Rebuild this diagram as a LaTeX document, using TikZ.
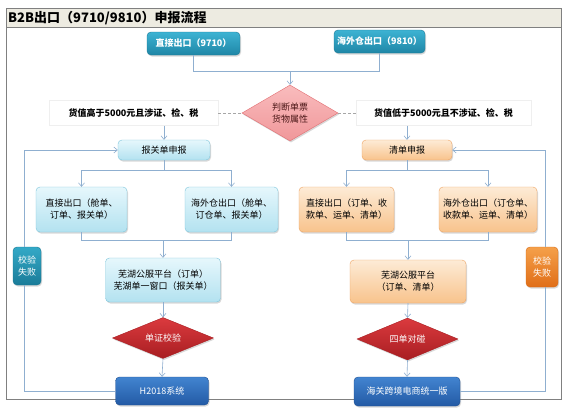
\documentclass[tikz,border=0pt]{standalone}
\usepackage{fontspec}
\setmainfont{Noto Sans CJK SC}
\usetikzlibrary{arrows.meta,positioning,shapes.geometric,shadows}
\definecolor{lnc}{HTML}{8FAFD0}
\definecolor{frmc}{HTML}{808080}
\definecolor{barc}{HTML}{EDEBE1}
\definecolor{topT}{HTML}{3DB3D3}
\definecolor{topB}{HTML}{1F86A6}
\definecolor{topD}{HTML}{1D7A97}
\definecolor{cyT}{HTML}{E6F7FC}
\definecolor{cyB}{HTML}{B3E2F0}
\definecolor{cyD}{HTML}{7EC6DC}
\definecolor{orT}{HTML}{FDEBD6}
\definecolor{orB}{HTML}{F8C38C}
\definecolor{orD}{HTML}{EFA462}
\definecolor{syT}{HTML}{4284D0}
\definecolor{syB}{HTML}{235AA5}
\definecolor{syD}{HTML}{1F4F90}
\definecolor{tfT}{HTML}{34A9C7}
\definecolor{tfB}{HTML}{1A7C99}
\definecolor{tfD}{HTML}{1A7893}
\definecolor{ofT}{HTML}{F5A04A}
\definecolor{ofB}{HTML}{E06E18}
\definecolor{ofD}{HTML}{D66A17}
\definecolor{jgT}{HTML}{F9BCBD}
\definecolor{jgB}{HTML}{F0979A}
\definecolor{jgD}{HTML}{E26E72}
\definecolor{jgX}{HTML}{4A1616}
\definecolor{ckT}{HTML}{DB3A3E}
\definecolor{ckB}{HTML}{A81E22}
\definecolor{ckD}{HTML}{A81C20}
\definecolor{lbD}{HTML}{EFEFEF}
\tikzset{
  blk/.style={draw,rounded corners=4pt,align=center,inner sep=2pt,font=\fontsize{9}{12}\selectfont,
    drop shadow={shadow xshift=1pt,shadow yshift=-1.5pt,opacity=0.3}},
  topblk/.style={blk,top color=topT,bottom color=topB,draw=topD,text=white,font=\fontsize{9}{12}\selectfont\bfseries},
  cyanblk/.style={blk,top color=cyT,bottom color=cyB,draw=cyD},
  orgblk/.style={blk,top color=orT,bottom color=orB,draw=orD},
  sysblk/.style={blk,top color=syT,bottom color=syB,draw=syD,text=white},
  tfailblk/.style={blk,top color=tfT,bottom color=tfB,draw=tfD,text=white},
  ofailblk/.style={blk,top color=ofT,bottom color=ofB,draw=ofD,text=white},
  judgeblk/.style={diamond,aspect=1.7,inner sep=1pt,draw=jgD,top color=jgT,bottom color=jgB,
    text=jgX,align=center,font=\fontsize{9}{12}\selectfont,
    drop shadow={shadow xshift=1pt,shadow yshift=-1.5pt,opacity=0.3}},
  chkblk/.style={diamond,aspect=2.4,inner sep=1pt,draw=ckD,top color=ckT,bottom color=ckB,
    text=white,font=\fontsize{9}{12}\selectfont,
    drop shadow={shadow xshift=1pt,shadow yshift=-1.5pt,opacity=0.3}},
  lblbox/.style={draw=lbD,fill=white,inner sep=2pt,font=\fontsize{9}{12}\selectfont\bfseries},
  ln/.style={draw=lnc,line width=0.6pt},
  arr/.style={ln,-{Straight Barb[length=3.5pt,width=6pt]}},
  dln/.style={draw=gray!70,densely dashed,line width=0.5pt}
}
\begin{document}
\begin{tikzpicture}[x=1pt,y=-1pt]
  \useasboundingbox (0,0) rectangle (573,416);
  \draw[frmc,line width=0.6pt,fill=white] (6,8) rectangle (561,399);
  \draw[frmc,line width=0.6pt,fill=barc] (6,8) rectangle (561,27);
  \node[anchor=west,font=\fontsize{13}{14}\selectfont\bfseries,inner sep=0pt] (title) at (8,18) {B2B出口（9710/9810）申报流程};

  \node[topblk,minimum width=93,minimum height=23] (d9710) at (193.5,43.5) {直接出口（9710）};
  \node[topblk,minimum width=91,minimum height=23] (h9810) at (379.5,41.5) {海外仓出口（9810）};
  \node[judgeblk,minimum width=96,minimum height=56] (judge) at (290,113) {判断单票\\货物属性};
  \node[lblbox,minimum width=169,minimum height=25] (hi) at (133.5,113) {货值高于5000元且涉证、检、税};
  \node[lblbox,minimum width=175,minimum height=25] (lo) at (443.5,113) {货值低于5000元且不涉证、检、税};

  \node[cyanblk,minimum width=92,minimum height=20] (bgd) at (164,150) {报关单申报};
  \node[cyanblk,minimum width=91,minimum height=45] (bzj) at (81.5,209.5) {直接出口（舱单、\\订单、报关单）};
  \node[cyanblk,minimum width=93,minimum height=45] (bhw) at (231.5,209.5) {海外仓出口（舱单、\\订仓单、报关单）};
  \node[cyanblk,minimum width=115,minimum height=44] (bwh) at (163,280) {芜湖公服平台（订单）\\芜湖单一窗口（报关单）};
  \node[chkblk,minimum width=101,minimum height=41] (bjy) at (163,338) {单证校验};
  \node[sysblk,minimum width=93,minimum height=28] (h2018) at (162,391) {H2018系统};
  \node[tfailblk,minimum width=28,minimum height=38] (lfail) at (27,266) {校验\\失败};

  \node[orgblk,minimum width=90,minimum height=20] (qd) at (407,150) {清单申报};
  \node[orgblk,minimum width=95,minimum height=45,align=left] (rzj) at (346.5,209.5) {直接出口（订单、收\\款单、运单、清单）};
  \node[orgblk,minimum width=98,minimum height=45,align=left] (rhw) at (488,209.5) {海外仓出口（订仓单、\\收款单、运单、清单）};
  \node[orgblk,minimum width=116,minimum height=43] (rwh) at (408,281.5) {芜湖公服平台\\（订单、清单）};
  \node[chkblk,minimum width=101,minimum height=42] (rdc) at (407.5,339) {四单对碰};
  \node[sysblk,minimum width=106,minimum height=29] (hg) at (407,391.5) {海关跨境电商统一版};
  \node[ofailblk,minimum width=32,minimum height=40] (rfail) at (542,267) {校验\\失败};

  \coordinate (join) at (290,71);
  \draw[ln] (d9710.south) |- (join);
  \draw[ln] (h9810.south) |- (join);
  \draw[arr] (join) -- (judge.north);
  \draw[dln] (hi.east) -- (judge.west);
  \draw[dln] (lo.west) -- (judge.east);
  \draw[arr] (hi.south -| bgd.north) -- (bgd.north);
  \draw[arr] (lo.south -| qd.north) -- (qd.north);

  \coordinate (bsplit) at (164,170);
  \draw[ln] (bgd.south) -- (bsplit);
  \draw[arr] (bsplit) -| (bzj.north);
  \draw[arr] (bsplit) -| (bhw.north);
  \coordinate (bmerge) at (163,240);
  \draw[ln] (bzj.south) |- (bhw.south |- bmerge) -- (bhw.south);
  \draw[arr] (bmerge) -- (bwh.north);
  \draw[arr] (bwh.south) -- (bjy.north);
  \draw[arr] (bjy.south) -- (h2018.north);
  \coordinate (lturn) at (24,391);
  \draw[ln] (h2018.west) -- (lturn) -- (lturn |- lfail.south);
  \draw[arr] (lturn |- lfail.north) |- (bgd.west);

  \coordinate (rsplit) at (407,170);
  \draw[ln] (qd.south) -- (rsplit);
  \draw[arr] (rsplit) -| (rzj.north);
  \draw[arr] (rsplit) -| (rhw.north);
  \coordinate (rmerge) at (408,240);
  \draw[ln] (rzj.south) |- (rhw.south |- rmerge) -- (rhw.south);
  \draw[arr] (rmerge) -- (rwh.north);
  \draw[arr] (rwh.south) -- (rdc.north);
  \draw[arr] (rdc.south) -- (hg.north);
  \coordinate (rturn) at (545,391.5);
  \draw[ln] (hg.east) -- (rturn) -- (rturn |- rfail.south);
  \draw[arr] (rturn |- rfail.north) |- (qd.east);
\end{tikzpicture}
\end{document}
